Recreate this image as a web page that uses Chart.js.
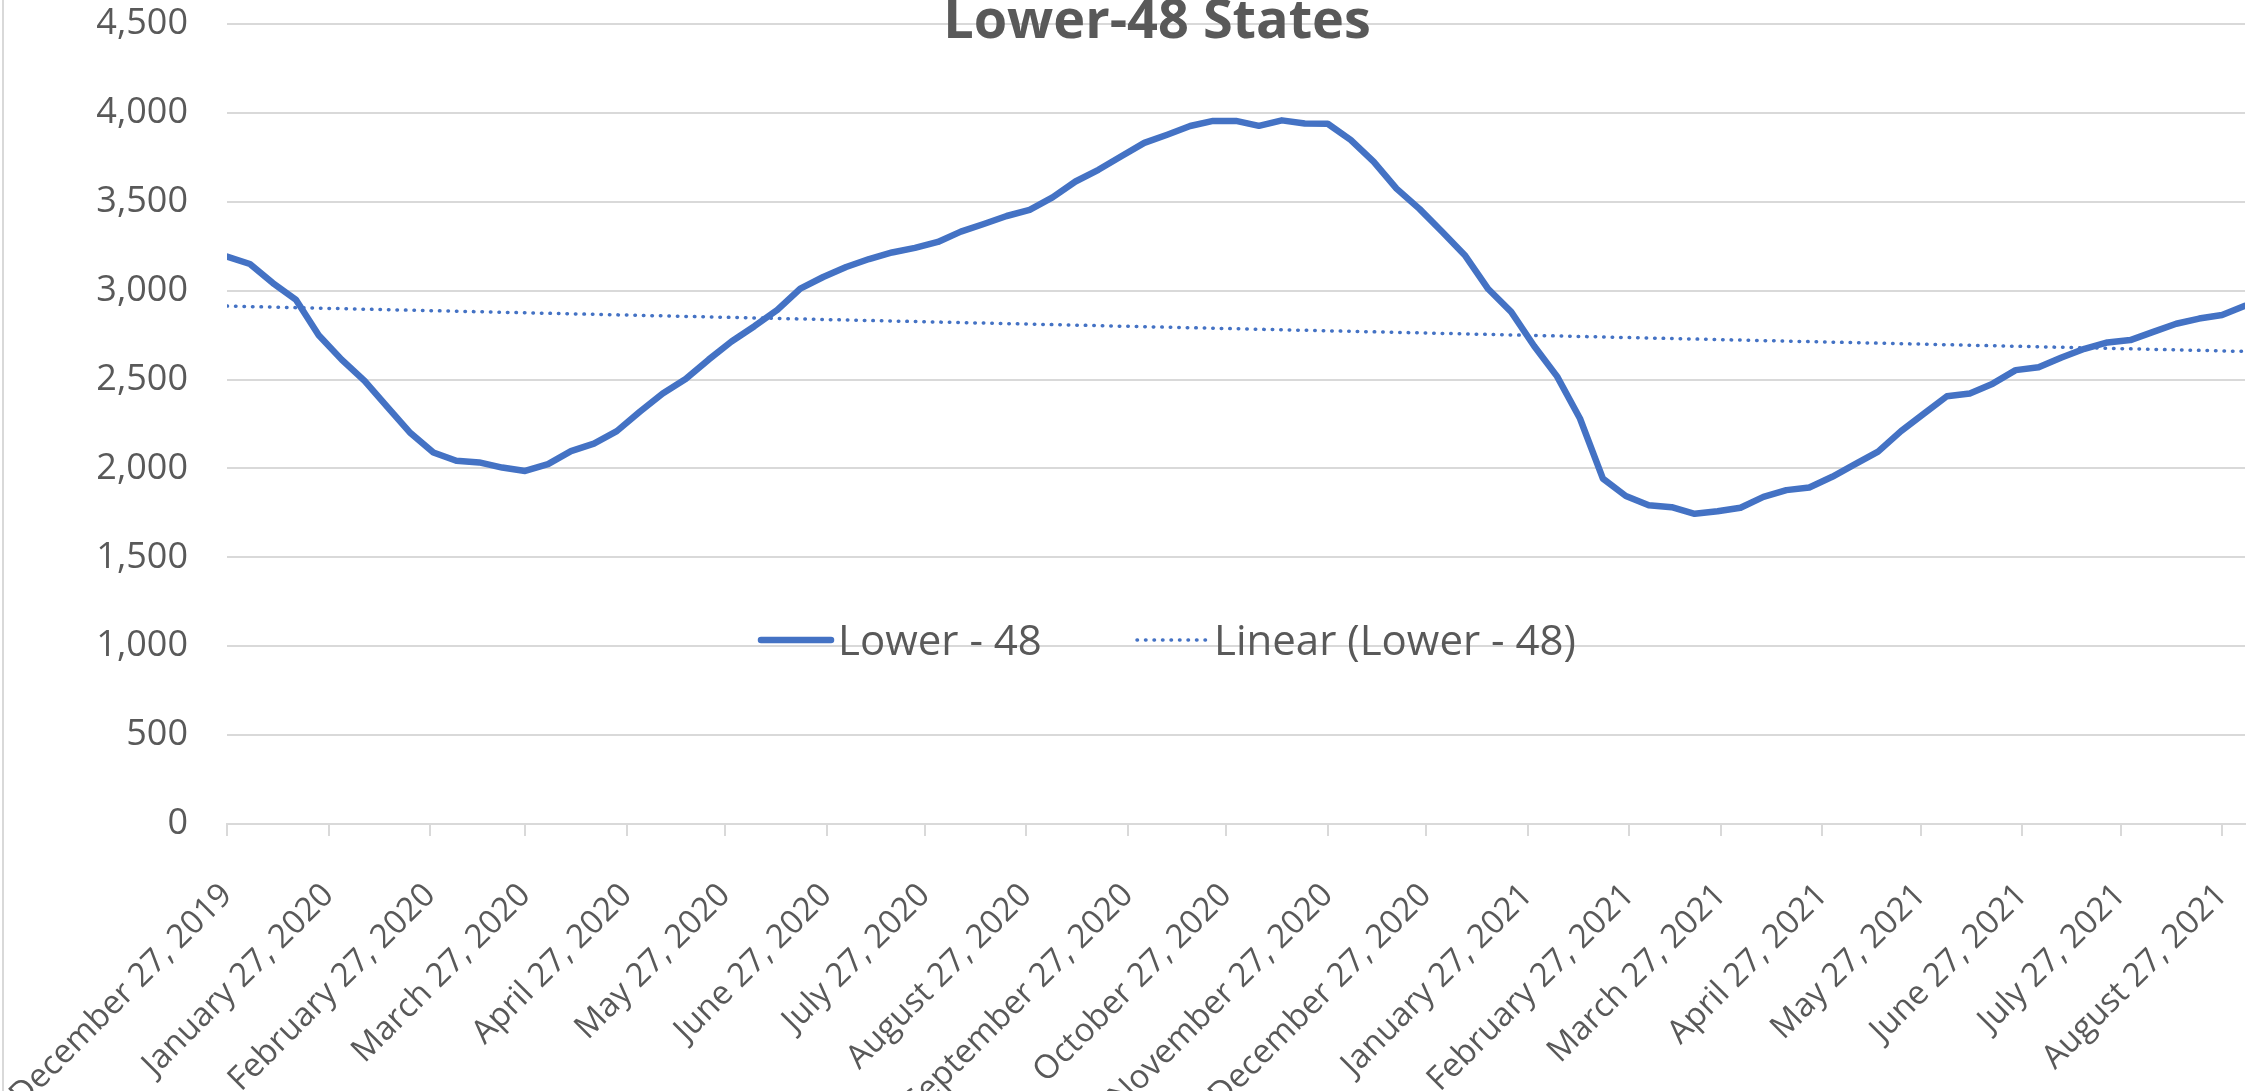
<!DOCTYPE html>
<html>
<head>
<meta charset="utf-8">
<title>Lower-48 States</title>
<script src="https://cdn.jsdelivr.net/npm/chart.js@4.4.1/dist/chart.umd.min.js"></script>
<style>
  html, body { margin: 0; padding: 0; background: #ffffff; overflow: hidden; }
  canvas { display: block; }
</style>
</head>
<body>
<canvas id="chart" width="2267" height="1091"></canvas>
<script>
// Working gas in storage, Lower 48 (Bcf), one value per week ending on Friday
const firstWeek = '2019-12-27';
const storageBcf = [
  3192, 3150, 3043, 2950, 2749, 2612, 2493, 2345, 2199, 2090,
  2043, 2034, 2005, 1986, 2024, 2097, 2140, 2210, 2319, 2422,
  2503, 2612, 2714, 2800, 2892, 3012, 3077, 3133, 3178, 3215,
  3241, 3274, 3332, 3375, 3420, 3455, 3525, 3614, 3680, 3756,
  3831, 3877, 3926, 3955, 3955, 3927, 3958, 3940, 3939, 3848,
  3726, 3574, 3460, 3330, 3196, 3009, 2881, 2689, 2518, 2281,
  1943, 1845, 1793, 1782, 1745, 1759, 1779, 1840, 1878, 1893,
  1953, 2024, 2095, 2210, 2308, 2406, 2422, 2477, 2553, 2569,
  2624, 2673, 2709, 2722, 2768, 2814, 2843, 2863, 2915
];

// Monthly date-axis ticks
const tickDates = [
  '2019-12-27', '2020-01-27', '2020-02-27', '2020-03-27', '2020-04-27',
  '2020-05-27', '2020-06-27', '2020-07-27', '2020-08-27', '2020-09-27',
  '2020-10-27', '2020-11-27', '2020-12-27', '2021-01-27', '2021-02-27',
  '2021-03-27', '2021-04-27', '2021-05-27', '2021-06-27', '2021-07-27',
  '2021-08-27'
];
const tickLabels = [
  'December 27, 2019', 'January 27, 2020', 'February 27, 2020', 'March 27, 2020',
  'April 27, 2020', 'May 27, 2020', 'June 27, 2020', 'July 27, 2020',
  'August 27, 2020', 'September 27, 2020', 'October 27, 2020', 'November 27, 2020',
  'December 27, 2020', 'January 27, 2021', 'February 27, 2021', 'March 27, 2021',
  'April 27, 2021', 'May 27, 2021', 'June 27, 2021', 'July 27, 2021',
  'August 27, 2021'
];

const chartTitle = 'Lower-48 States';
const seriesName = 'Lower - 48';
const trendName = 'Linear (Lower - 48)';

const DAY_MS = 86400000;
const dayOf = d => Math.round((Date.parse(d) - Date.parse(firstWeek)) / DAY_MS);
const tickDays = tickDates.map(dayOf);

const points = storageBcf.map((v, i) => ({ x: i * 7, y: v }));
const lastDay = points[points.length - 1].x;

// Least-squares linear trend over the weekly points
function linearTrend(pts) {
  const n = pts.length;
  let sx = 0, sy = 0, sxx = 0, sxy = 0;
  pts.forEach(p => { sx += p.x; sy += p.y; sxx += p.x * p.x; sxy += p.x * p.y; });
  const slope = (n * sxy - sx * sy) / (n * sxx - sx * sx);
  const icept = (sy - slope * sx) / n;
  const x0 = pts[0].x, x1 = pts[n - 1].x;
  return [{ x: x0, y: icept + slope * x0 }, { x: x1, y: icept + slope * x1 }];
}

const BLUE = '#4472C4';
const TEXT = '#595959';
const GRID = '#d9d9d9';
const FONT = '"Open Sans", "Noto Sans", sans-serif';

// Frame, title and in-plot legend
const decorations = {
  id: 'decorations',
  beforeDraw(chart) {
    const ctx = chart.ctx;
    ctx.save();
    ctx.fillStyle = '#ffffff';
    ctx.fillRect(0, 0, chart.width, chart.height);
    ctx.strokeStyle = GRID;
    ctx.lineWidth = 2;
    ctx.beginPath();
    ctx.moveTo(3, 0);
    ctx.lineTo(3, chart.height);
    ctx.stroke();
    ctx.restore();
  },
  afterDraw(chart) {
    const ctx = chart.ctx;
    ctx.save();
    ctx.fillStyle = TEXT;
    ctx.font = 'bold 54px ' + FONT;
    ctx.textAlign = 'center';
    ctx.textBaseline = 'alphabetic';
    ctx.fillText(chartTitle, 1157, 38);

    const ds = chart.data.datasets;
    const items = [
      { ds: ds[0], x: 761, tx: 838 },
      { ds: ds[1], x: 1137, tx: 1214 }
    ];
    const ly = 640;
    ctx.font = '42px ' + FONT;
    ctx.textAlign = 'left';
    items.forEach(it => {
      ctx.beginPath();
      ctx.strokeStyle = it.ds.borderColor;
      ctx.lineWidth = it.ds.borderWidth;
      ctx.lineCap = 'round';
      ctx.setLineDash(it.ds.borderDash || []);
      ctx.moveTo(it.x, ly);
      ctx.lineTo(it.x + 70, ly);
      ctx.stroke();
      ctx.setLineDash([]);
      ctx.fillStyle = TEXT;
      ctx.fillText(it.ds.label, it.tx, ly + 15);
    });
    ctx.restore();
  }
};

new Chart(document.getElementById('chart'), {
  type: 'line',
  data: {
    datasets: [
      {
        label: seriesName,
        data: points,
        borderColor: BLUE,
        borderWidth: 6.5,
        borderCapStyle: 'round',
        borderJoinStyle: 'round',
        pointRadius: 0,
        tension: 0,
        order: 2
      },
      {
        label: trendName,
        data: linearTrend(points),
        borderColor: BLUE,
        borderWidth: 3.5,
        borderDash: [0.5, 8],
        borderCapStyle: 'round',
        pointRadius: 0,
        tension: 0,
        order: 1
      }
    ]
  },
  options: {
    responsive: false,
    animation: false,
    devicePixelRatio: 1,
    layout: { padding: { top: 24, right: 22, left: 0, bottom: 0 } },
    plugins: {
      legend: { display: false },
      title: { display: false },
      tooltip: { enabled: false }
    },
    scales: {
      x: {
        type: 'linear',
        min: 0,
        max: lastDay,
        afterBuildTicks(scale) {
          scale.ticks = tickDays.map(v => ({ value: v }));
        },
        afterFit(scale) {
          scale.height = 267;
          scale.paddingLeft = 0;
          scale.paddingRight = 0;
        },
        ticks: {
          autoSkip: false,
          minRotation: 45,
          maxRotation: 45,
          padding: 40,
          color: TEXT,
          font: { family: FONT, size: 33 },
          callback(value) {
            const i = tickDays.indexOf(value);
            return i >= 0 ? tickLabels[i] : '';
          }
        },
        grid: {
          drawOnChartArea: false,
          drawTicks: true,
          tickLength: 12,
          color: GRID,
          lineWidth: 2
        },
        border: { display: true, color: GRID, width: 2 }
      },
      y: {
        min: 0,
        max: 4500,
        afterFit(scale) {
          scale.width = 227;
          scale.paddingTop = 0;
          scale.paddingBottom = 0;
        },
        ticks: {
          stepSize: 500,
          padding: 39,
          color: TEXT,
          font: { family: FONT, size: 36 },
          callback: v => v.toLocaleString('en-US')
        },
        grid: { color: GRID, lineWidth: 2, drawTicks: false },
        border: { display: false }
      }
    }
  },
  plugins: [decorations]
});
</script>
</body>
</html>
